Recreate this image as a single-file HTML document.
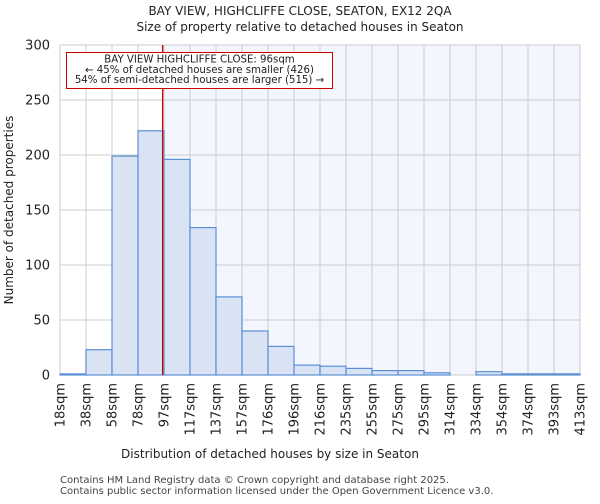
<!DOCTYPE html>
<html><head><meta charset="utf-8"><style>
body{margin:0;background:#fff;font-family:"DejaVu Sans","Liberation Sans",sans-serif}
</style></head><body>
<svg id="c" width="600" height="500" xmlns="http://www.w3.org/2000/svg" font-family="DejaVu Sans, Liberation Sans, sans-serif">
<text x="300" y="15" text-anchor="middle" font-size="12" fill="#222">BAY VIEW, HIGHCLIFFE CLOSE, SEATON, EX12 2QA</text>
<text x="300" y="31" text-anchor="middle" font-size="12" fill="#222">Size of property relative to detached houses in Seaton</text>
<g id="plot"></g>
<text x="270" y="458" text-anchor="middle" font-size="12" fill="#222">Distribution of detached houses by size in Seaton</text>
<text transform="translate(13,210) rotate(-90)" text-anchor="middle" font-size="12" fill="#222">Number of detached properties</text>
<text x="60" y="483" font-size="10" fill="#444">Contains HM Land Registry data © Crown copyright and database right 2025.</text>
<text x="60" y="494" font-size="10" fill="#444">Contains public sector information licensed under the Open Government Licence v3.0.</text>
</svg>
<script>
const binLabels=["18sqm","38sqm","58sqm","78sqm","97sqm","117sqm","137sqm","157sqm","176sqm","196sqm","216sqm","235sqm","255sqm","275sqm","295sqm","314sqm","334sqm","354sqm","374sqm","393sqm","413sqm"];
const counts=[1,23,199,222,196,134,71,40,26,9,8,6,4,4,2,0,3,1,1,1];
const yTicks=[0,50,100,150,200,250,300];
const propertySize=96;
const binEdges=[18,38,58,78,97,117,137,157,176,196,216,235,255,275,295,314,334,354,374,393,413];
const annotation=["BAY VIEW HIGHCLIFFE CLOSE: 96sqm","← 45% of detached houses are smaller (426)","54% of semi-detached houses are larger (515) →"];
const L=60,R=580,T=45,B=375,YMAX=300;
const NS="http://www.w3.org/2000/svg";
const g=document.getElementById('plot');
const bw=(R-L)/counts.length;
const xi=i=>L+i*bw;
const y=v=>B-(v/YMAX)*(B-T);
function xv(v){for(let i=0;i<binEdges.length-1;i++){if(v<=binEdges[i+1])return xi(i)+bw*(v-binEdges[i])/(binEdges[i+1]-binEdges[i]);}return R;}
function mk(t,a){const e=document.createElementNS(NS,t);for(const k in a)e.setAttribute(k,a[k]);g.appendChild(e);return e;}
const px=xv(propertySize);
let e=mk('rect',{x:px,y:T,width:R-px,height:B-T,fill:'#f3f6fe'});


for(let i=0;i<binLabels.length;i++){
 e=mk('line',{x1:xi(i),x2:xi(i),y1:T,y2:B,stroke:'#ccc','stroke-width':1});
 
 
 e=mk('text',{transform:`translate(${xi(i)+4.5},383) rotate(-90)`,'text-anchor':'end','font-size':13,fill:'#222'});
 e.textContent=binLabels[i];
 
 
}
yTicks.forEach(v=>{
 e=mk('line',{x1:L,x2:R,y1:y(v),y2:y(v),stroke:'#ccc','stroke-width':1});
 
 
 e=mk('text',{x:L-10,y:y(v)+4.5,'text-anchor':'end','font-size':13,fill:'#222'});
 e.textContent=v;
 
 
});
counts.forEach((c,i)=>{
 e=mk('rect',{x:xi(i),y:y(c),width:bw,height:B-y(c),fill:'#dae3f3',stroke:'#5b8fd6','stroke-width':1.2});
 
 
});
e=mk('line',{x1:px,x2:px,y1:T,y2:B,stroke:'#cc0000','stroke-width':1.3});


e=mk('rect',{x:66.5,y:52.5,width:266,height:36,fill:'#fff',stroke:'#cc0000','stroke-width':1});


annotation.forEach((s,i)=>{
 e=mk('text',{x:199.5,y:62.5+i*10.3,'text-anchor':'middle','font-size':10.2,fill:'#222'});
 e.textContent=s;
 
 
});
</script>
</body></html>
